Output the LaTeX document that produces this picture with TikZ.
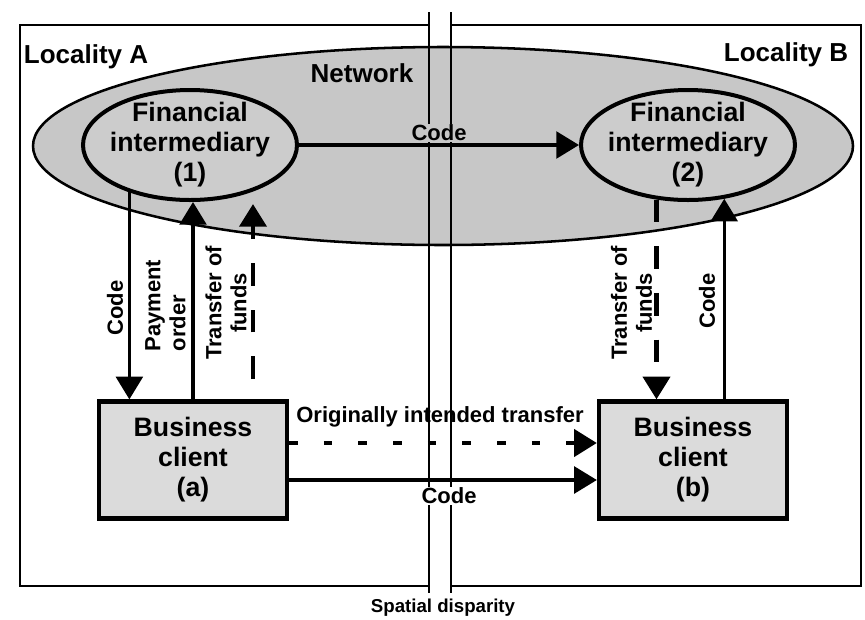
\documentclass[tikz,border=0pt]{standalone}
\usepackage{fontspec}
\setmainfont{Liberation Sans}
\usepackage{xcolor}
\usetikzlibrary{shapes.geometric,arrows.meta,calc}

\definecolor{netgray}{gray}{0.78}
\definecolor{fingray}{gray}{0.80}
\definecolor{boxgray}{gray}{0.86}

\tikzset{
  frame/.style={line width=1.6pt},
  border/.style={line width=1.8pt},
  netshape/.style={ellipse, draw, fill=netgray, line width=1.9pt, minimum width=615pt, minimum height=148.5pt},
  interm/.style={ellipse, draw, fill=fingray, line width=3pt, minimum width=160.5pt, minimum height=82.5pt, inner sep=-4pt, align=center, font=\bfseries\fontsize{20}{22.5}\selectfont},
  client/.style={rectangle, draw, fill=boxgray, line width=3.2pt, minimum width=141pt, minimum height=87.75pt, align=center, font=\bfseries\fontsize{20}{22.5}\selectfont},
  lbl/.style={inner sep=1pt, font=\bfseries\fontsize{16.5}{18.75}\selectfont},
  biglbl/.style={inner sep=1pt, font=\bfseries\fontsize{19.5}{22}\selectfont},
  flow/.style={line width=2.6pt, -{Triangle[length=17pt,width=20pt]}},
  funds/.style={flow, line width=3.6pt, dash pattern=on 17pt off 18pt},
  intended/.style={flow, line width=3.6pt, dash pattern=on 6.5pt off 19.5pt},
}

\begin{document}
\begin{tikzpicture}[x=0.75pt,y=0.75pt,yscale=-1,xscale=1]
\useasboundingbox (0,0) rectangle (865,619);

%Shape: Rectangle
\draw [frame] (20,25) -- (429,25) -- (429,586) -- (20,586) -- cycle ;
%Shape: Rectangle
\draw [frame] (451,25) -- (861,25) -- (861,586) -- (451,586) -- cycle ;
%Shape: Ellipse
\draw (443,146) node [netshape] (net) {};
%Straight Lines
\draw [border] (429,12) -- (429,593) ;
\draw [border] (451,12) -- (451,593) ;

%Shape: Ellipse
\draw (190,145) node [interm] (fiA) {Financial\\intermediary\\(1)};
%Shape: Ellipse
\draw (688,145) node [interm] (fiB) {Financial\\intermediary\\(2)};
%Shape: Rectangle
\draw (193,460) node [client] (clA) {Business\\client\\(a)};
%Shape: Rectangle
\draw (693,460) node [client] (clB) {Business\\client\\(b)};

%Straight Lines
\draw [flow] (fiA.east) -- (fiB.west) ;
%Straight Lines
\draw [flow] (fiA.218) -- (fiA.218 |- clA.north) ;
%Straight Lines
\draw [flow] (clA.north) -- (clA.north |- fiA.south) ;
%Straight Lines
\coordinate (fundA1) at (253,379) ;
\coordinate (fundA2) at (253,204) ;
\draw [funds] (fundA1) -- (fundA2) ;
%Straight Lines
\draw [funds] (fiB.240) -- (fiB.240 |- clB.north) ;
%Straight Lines
\draw [flow] (fiB.304 |- clB.north) -- (fiB.304) ;
%Straight Lines
\coordinate (dotA) at ($(clA.east)+(0,-17)$) ;
\draw [intended] (dotA) -- (dotA -| clB.west) ;
%Straight Lines
\coordinate (codeA) at ($(clA.east)+(0,20)$) ;
\draw [flow] (codeA) -- (codeA -| clB.west) ;

% Text Node
\draw (86,57) node [biglbl] (locA) {Locality A};
% Text Node
\draw (786,55) node [biglbl] (locB) {Locality B};
% Text Node
\draw (362,73) node [biglbl] (netlbl) {Network};
% Text Node
\draw (439,133) node [lbl, fill=netgray] (codetop) {Code};
% Text Node
\draw (115,308) node [lbl, rotate=90] (codeleft) {Code};
% Text Node
\draw (165.5,353) node [lbl, rotate=90, anchor=west, align=left] (payorder) {Payment\\order};
% Text Node
\draw (226,303) node [lbl, rotate=90, align=center] (fundsleft) {Transfer of\\funds};
% Text Node
\draw (631.5,303) node [lbl, rotate=90, align=center] (fundsright) {Transfer of\\funds};
% Text Node
\draw (707,301) node [lbl, rotate=90] (coderight) {Code};
% Text Node
\draw (440,417) node [lbl] (origlbl) {Originally intended transfer};
% Text Node
\draw (449,496) node [lbl, fill=white] (codebottom) {Code};
% Text Node
\draw (443,608) node [inner sep=1pt, font=\bfseries\fontsize{14}{16}\selectfont] (spatial) {Spatial disparity};

\end{tikzpicture}
\end{document}
